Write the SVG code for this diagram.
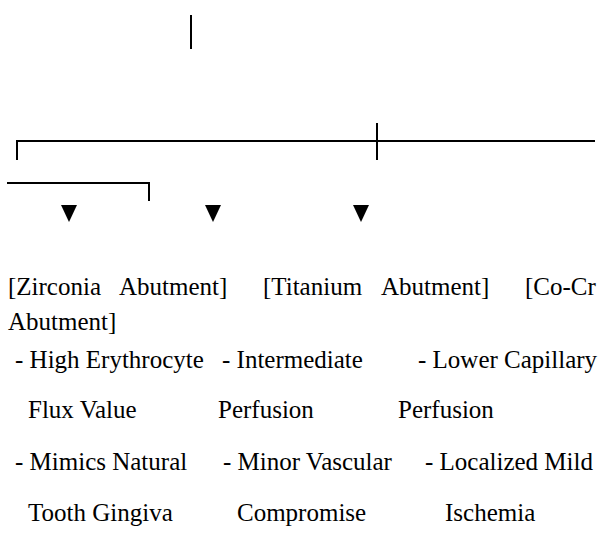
<svg xmlns="http://www.w3.org/2000/svg" width="615" height="540" viewBox="0 0 615 540">
<style>
text{font-family:'Liberation Serif','DejaVu Serif',serif;font-size:25px;fill:#000}
.c{stroke:#000;stroke-width:2;fill:none}
.a{fill:#000}
</style>
<rect width="615" height="540" fill="#fff"/>
<g id="connectors">
<line class="c" x1="191" y1="15" x2="191" y2="49"/>
<polyline class="c" points="17,160 17,141 595,141"/>
<line class="c" x1="377" y1="123" x2="377" y2="160"/>
<polyline class="c" points="7,183 149,183 149,201"/>
<polygon class="a" points="61,205 77,205 69,222"/>
<polygon class="a" points="205,205 221,205 213,222"/>
<polygon class="a" points="353,205 369,205 361,222"/>
</g>
<g id="zirconia">
<text x="8" y="295">[Zirconia</text>
<text x="119" y="295">Abutment]</text>
<text x="15" y="368">- High Erythrocyte</text>
<text x="28" y="418">Flux Value</text>
<text x="15" y="470">- Mimics Natural</text>
<text x="28" y="521">Tooth Gingiva</text>
</g>
<g id="titanium">
<text x="263" y="295">[Titanium</text>
<text x="381" y="295">Abutment]</text>
<text x="222" y="368">- Intermediate</text>
<text x="218" y="418">Perfusion</text>
<text x="223" y="470">- Minor Vascular</text>
<text x="237" y="521">Compromise</text>
</g>
<g id="cocr">
<text x="525" y="295">[Co-Cr</text>
<text x="8" y="330">Abutment]</text>
<text x="418" y="368">- Lower Capillary</text>
<text x="398" y="418">Perfusion</text>
<text x="425" y="470">- Localized Mild</text>
<text x="445" y="521">Ischemia</text>
</g>
</svg>
